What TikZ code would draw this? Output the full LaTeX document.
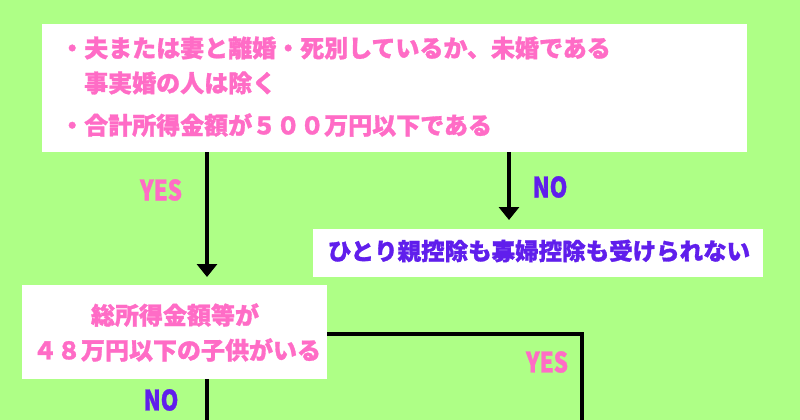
\documentclass[tikz,border=0pt]{standalone}
\usepackage{fontspec}
\newfontfamily\jp{Noto Sans CJK JP}[BoldFont={Noto Sans CJK JP Black}, BoldFeatures={FakeBold=1.2}]
\newfontfamily\jpnarrow{Noto Sans CJK JP}[BoldFont={Noto Sans CJK JP Black}, BoldFeatures={FakeBold=1.2}, FakeStretch=0.8]
\usetikzlibrary{arrows.meta}

\definecolor{bggreen}{RGB}{174,255,134}
\definecolor{pinktext}{RGB}{255,108,198}
\definecolor{purpletext}{RGB}{96,30,236}

\tikzset{
    box/.style={fill=white, draw=none, inner sep=0pt},
    pinklabel/.style={text=pinktext, font=\jp\bfseries\fontsize{24}{28}\selectfont, inner sep=0pt},
    purplelabel/.style={text=purpletext, font=\jp\bfseries\fontsize{23.5}{28}\selectfont, inner sep=0pt},
    yeslabel/.style={text=pinktext, font=\jpnarrow\bfseries\fontsize{28}{30}\selectfont, inner sep=0pt},
    nolabel/.style={text=purpletext, font=\jpnarrow\bfseries\fontsize{28}{30}\selectfont, inner sep=0pt},
    flow/.style={line width=4pt, draw=black},
    flowarrow/.style={flow, -{Triangle[width=20pt,length=13pt]}}
}

\begin{document}
\begin{tikzpicture}[x=1pt, y=-1pt]
    % background
    \fill[bggreen] (0,0) rectangle (800,420);
    \useasboundingbox (0,0) rectangle (800,420);

    % Top condition box
    \node[box, minimum width=705pt, minimum height=128pt] (cond) at (394.5,88) {};
    \node[pinklabel, anchor=west] (condA) at (60,48) {・夫または妻と離婚・死別しているか、未婚である};
    \node[pinklabel, anchor=west] (condB) at (84,83) {事実婚の人は除く};
    \node[pinklabel, anchor=west] (condC) at (60,125) {・合計所得金額が５００万円以下である};

    % Result box: NO
    \node[box, minimum width=450pt, minimum height=48pt] (noresult) at (538,253) {};
    \node[purplelabel] (noresultText) at (539,251) {ひとり親控除も寡婦控除も受けられない};

    % Second condition box
    \node[box, minimum width=305pt, minimum height=94pt] (child) at (174.5,332) {};
    \node[pinklabel] (childA) at (175,315) {総所得金額等が};
    \node[pinklabel] (childB) at (177,350) {４８万円以下の子供がいる};

    % Arrows from top box
    \coordinate (yesStart) at (207,152);
    \coordinate (yesEnd) at (207,277);
    \coordinate (noStart) at (509,152);
    \coordinate (noEnd) at (509,220);
    \draw[flowarrow] (yesStart) -- (yesEnd);
    \draw[flowarrow] (noStart) -- (noEnd);
    \node[yeslabel] (yesA) at (161,190) {YES};
    \node[nolabel] (noA) at (550,187) {NO};

    % Lines from second box
    \coordinate (childYesCorner) at (582,334);
    \coordinate (childYesEnd) at (582,420);
    \coordinate (childNoStart) at (207,379);
    \coordinate (childNoEnd) at (207,420);
    \draw[flow] (child.east |- childYesCorner) -- (childYesCorner) -- (childYesEnd);
    \draw[flow] (childNoStart) -- (childNoEnd);
    \node[yeslabel] (yesB) at (547,362) {YES};
    \node[nolabel] (noB) at (161,400) {NO};
\end{tikzpicture}
\end{document}
